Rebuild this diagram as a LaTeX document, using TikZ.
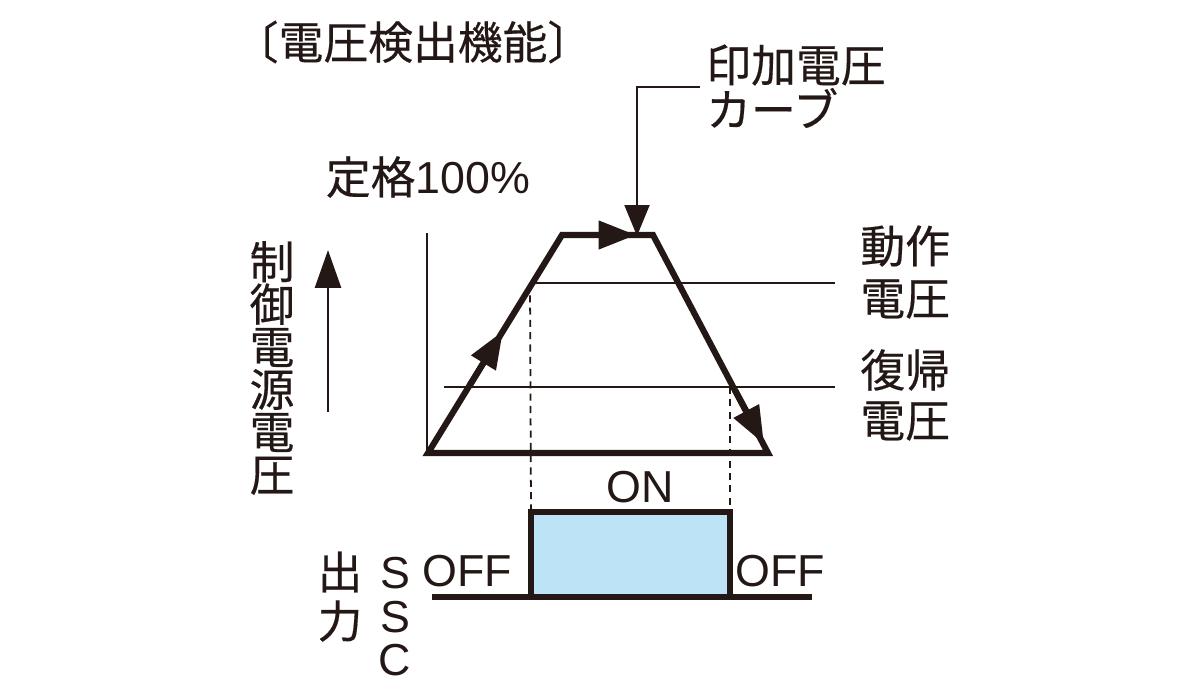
\documentclass[tikz,border=0pt]{standalone}
\usepackage{fontspec}
\setmainfont{Noto Sans CJK JP}[FakeBold=0.4]
\newfontfamily\lat{Liberation Sans}
\usetikzlibrary{arrows.meta}
\definecolor{onblue}{HTML}{BDE3F6}
\definecolor{ink}{HTML}{231815}
\tikzset{
  txt/.style={inner sep=0pt, text=ink, font=\fontsize{25.5pt}{28pt}\selectfont},
  thickline/.style={draw=ink, line width=3.5pt},
  thinline/.style={draw=ink, line width=1.1pt},
  dashline/.style={draw=ink, line width=1pt, dash pattern=on 4pt off 3pt},
  bighead/.style={-{Triangle[length=0.75cm,width=0.55cm]}},
}
\begin{document}
\begin{tikzpicture}[x=0.02cm,y=-0.02cm]
\useasboundingbox (0,0) rectangle (1200,690);
% trapezoid corners
\coordinate (bl) at (428,453);
\coordinate (tl) at (562,235);
\coordinate (tr) at (653,235);
\coordinate (br) at (768,453);
% axis
\coordinate (ax0) at (427,233);
\coordinate (ax1) at (427,453);
\draw[thinline] (ax0) -- (ax1);
% threshold lines
\coordinate (op0) at (530,283);
\coordinate (op1) at (835,283);
\coordinate (rt0) at (444,387);
\coordinate (rt1) at (835,387);
\draw[thinline] (op0) -- (op1);
\draw[thinline] (rt0) -- (rt1);
% trapezoid
\draw[thickline, line join=miter] (bl) -- (tl) -- (tr) -- (br) -- cycle;
% direction arrows
\coordinate (a1s) at (470,385);
\coordinate (a1e) at (503,331);
\draw[draw=ink, line width=3.5pt, bighead] (a1s) -- (a1e);
\coordinate (a2s) at (590,235);
\coordinate (a2e) at (636,235);
\draw[draw=ink, line width=3.5pt, bighead] (a2s) -- (a2e);
\coordinate (a3s) at (735,390);
\coordinate (a3e) at (764,444);
\draw[draw=ink, line width=3.5pt, bighead] (a3s) -- (a3e);
% output box
\coordinate (on0) at (531,512);
\coordinate (on1) at (730,597);
\draw[thickline, fill=onblue] (on0) rectangle (on1);
\coordinate (base0) at (432,597);
\coordinate (base1) at (812,597);
\draw[thickline] (base0) -- (base1);
% dashed projections
\coordinate (d1b) at (531,512);
\coordinate (d2t) at (730,387);
\coordinate (d2b) at (730,512);
\draw[dashline] (op0) -- (d1b);
\draw[dashline] (d2t) -- (d2b);
% leader to curve
\node[txt, anchor=west] (lbl1) at (706,65) {印加電圧};
\node[txt, anchor=west] (lbl2) at (706,108) {カーブ};
\coordinate (ld0) at (700,87);
\coordinate (ld1) at (637,87);
\coordinate (ld2) at (637,236);
\draw[thinline, -{Triangle[length=0.62cm,width=0.5cm]}] (ld0) -- (ld1) -- (ld2);
% up arrow
\coordinate (up0) at (328,412);
\coordinate (up1) at (328,250);
\draw[thinline, line width=1.6pt, -{Triangle[length=0.76cm,width=0.52cm]}] (up0) -- (up1);
% texts
\node[txt] (title) at (413,42) {〔電圧検出機能〕};
\node[txt] (rated) at (428,177) {定格{\lat 100\%}};
\node[txt, anchor=west] (op1t) at (860,246) {動作};
\node[txt, anchor=west] (op2t) at (860,299) {電圧};
\node[txt, anchor=west] (rt1t) at (860,370) {復帰};
\node[txt, anchor=west] (rt2t) at (860,421) {電圧};
\node[txt, align=center, font=\fontsize{25.5pt}{24.2pt}\selectfont] (vlab) at (272,368) {制\\御\\電\\源\\電\\圧};
\node[txt] (on) at (640,487) {\lat ON};
\node[txt] (off1) at (467,571) {\lat OFF};
\node[txt] (off2) at (780,571) {\lat OFF};
\node[txt] (out1) at (340,572) {出};
\node[txt] (out2) at (340,621) {力};
\node[txt] (s1) at (395,573) {\lat S};
\node[txt] (s2) at (395,617) {\lat S};
\node[txt] (s3) at (395,660) {\lat C};
\end{tikzpicture}
\end{document}
